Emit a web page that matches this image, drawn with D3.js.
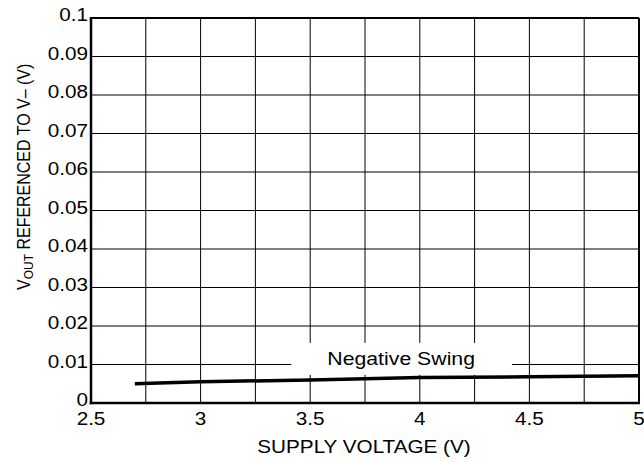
<!DOCTYPE html>
<html>
<head>
<meta charset="utf-8">
<script src="https://cdn.jsdelivr.net/npm/d3@7"></script>
<style>
  html, body { margin: 0; padding: 0; background: #fff; }
  text { font-family: "Liberation Sans", Arial, Helvetica, sans-serif; fill: #000; }
</style>
</head>
<body>
<svg id="chart" width="644" height="462"></svg>
<script>
// ---- data ----
const supplyVoltage = [2.7, 3.0, 3.5, 4.0, 4.5, 5.0];
const negativeSwing = [0.0050, 0.0055, 0.0060, 0.0066, 0.0068, 0.0071];
const xTicks = [2.5, 3, 3.5, 4, 4.5, 5];
const xTickLabels = ["2.5", "3", "3.5", "4", "4.5", "5"];
const xGrid = [2.75, 3, 3.25, 3.5, 3.75, 4, 4.25, 4.5, 4.75];
const yTicks = [0, 0.01, 0.02, 0.03, 0.04, 0.05, 0.06, 0.07, 0.08, 0.09, 0.1];
const yTickLabels = ["0", "0.01", "0.02", "0.03", "0.04", "0.05", "0.06", "0.07", "0.08", "0.09", "0.1"];
const seriesLabel = "Negative Swing";
const seriesLabelAt = [3.915, 0.0099];
const xTitle = "SUPPLY VOLTAGE (V)";

// ---- layout ----
const W = 644, H = 462;
const margin = { left: 91, top: 18, right: 5, bottom: 59 };
const SX = 1.15; // horizontal glyph stretch seen in reference
const FS = 18;

const svg = d3.select("#chart");
const x = d3.scaleLinear().domain([2.5, 5]).range([margin.left, W - margin.right]);
const y = d3.scaleLinear().domain([0, 0.1]).range([H - margin.bottom, margin.top]);

// gridlines
const g = svg.append("g");
g.selectAll("line.vg").data(xGrid).join("line")
  .attr("x1", d => x(d)).attr("x2", d => x(d))
  .attr("y1", y(0)).attr("y2", y(0.1))
  .attr("stroke", "#000").attr("stroke-width", 1);
g.selectAll("line.hg").data(yTicks.slice(1, -1)).join("line")
  .attr("x1", x(2.5)).attr("x2", x(5))
  .attr("y1", d => y(d)).attr("y2", d => y(d))
  .attr("stroke", "#000").attr("stroke-width", 1);

// frame
svg.append("line").attr("x1", x(2.5)).attr("x2", x(5)).attr("y1", y(0.1)).attr("y2", y(0.1))
  .attr("stroke", "#000").attr("stroke-width", 2);
svg.append("line").attr("x1", x(5)).attr("x2", x(5)).attr("y1", y(0)).attr("y2", y(0.1))
  .attr("stroke", "#000").attr("stroke-width", 2);
svg.append("line").attr("x1", x(2.5)).attr("x2", x(2.5)).attr("y1", y(0) + 1.25).attr("y2", y(0.1) - 1)
  .attr("stroke", "#000").attr("stroke-width", 2.5);
svg.append("line").attr("x1", x(2.5) - 1.25).attr("x2", x(5) + 1).attr("y1", y(0)).attr("y2", y(0))
  .attr("stroke", "#000").attr("stroke-width", 2.5);

// series label with white box
const labG = svg.append("g");
const boxRect = labG.append("rect").attr("fill", "#fff");
const lab = labG.append("text")
  .attr("transform", `translate(${x(seriesLabelAt[0])},${y(seriesLabelAt[1])}) scale(${SX},1)`)
  .attr("text-anchor", "middle").attr("font-size", 18.5)
  .text(seriesLabel);
const bb = lab.node().getBBox();
const lw = bb.width * SX;
boxRect.attr("x", x(seriesLabelAt[0]) - lw / 2 - 36)
  .attr("width", lw + 73)
  .attr("y", y(seriesLabelAt[1]) - 22)
  .attr("height", 32);

// series line
const line = d3.line().x((d, i) => x(supplyVoltage[i])).y(d => y(d));
svg.append("path").datum(negativeSwing)
  .attr("d", line).attr("fill", "none")
  .attr("stroke", "#000").attr("stroke-width", 3.5);

// y tick labels
svg.selectAll("text.yt").data(yTicks).join("text")
  .attr("class", "yt")
  .attr("transform", d => `translate(${x(2.5) - 3},${y(d) + 3}) scale(${SX},1)`)
  .attr("text-anchor", "end").attr("font-size", FS)
  .text((d, i) => yTickLabels[i]);

// x tick labels
svg.selectAll("text.xt").data(xTicks).join("text")
  .attr("class", "xt")
  .attr("transform", d => `translate(${x(d)},${y(0) + 22}) scale(${SX},1)`)
  .attr("text-anchor", "middle").attr("font-size", FS)
  .text((d, i) => xTickLabels[i]);

// x title
svg.append("text")
  .attr("transform", `translate(${(x(2.5) + x(5)) / 2 - 1},${y(0) + 50}) scale(${SX},1)`)
  .attr("text-anchor", "middle").attr("font-size", FS)
  .text(xTitle);

// y title
const yt = svg.append("text")
  .attr("transform", `translate(29.5,290) rotate(-90) scale(1,1.12)`)
  .attr("text-anchor", "start").attr("font-size", 16);
yt.append("tspan").text("V");
yt.append("tspan").attr("font-size", 12).attr("dy", 3).text("OUT");
yt.append("tspan").attr("dy", -3).text(" REFERENCED TO V\u2013  (V)");
</script>
</body>
</html>
